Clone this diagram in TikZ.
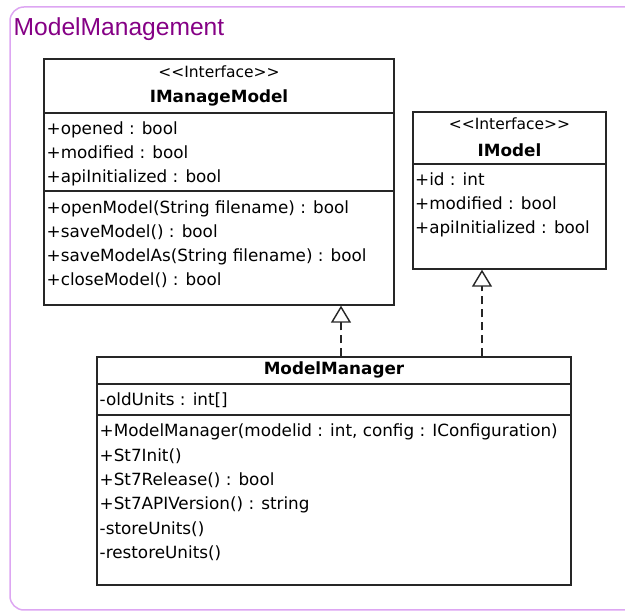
\documentclass[tikz,border=0pt]{standalone}
\usepackage{fontspec}
\setmainfont{DejaVu Sans}
\newfontfamily\titlefont{Liberation Sans}
\usepackage{xcolor}
\usetikzlibrary{arrows.meta}
\definecolor{pkgline}{HTML}{DDA6F2}
\definecolor{pkgtext}{HTML}{850085}
\newcommand{\umlsize}{\fontsize{16.8}{20}\selectfont}
\newcommand{\stereosize}{\fontsize{15.5}{18}\selectfont}
\newcommand{\boxline}{black!85}
\newcommand{\lw}{1.4pt}
\newcommand{\iface}{{<}{<}Interface{>}{>}}

\begin{document}
\begin{tikzpicture}[x=1pt, y=-1pt, >={Triangle[open, length=17pt, width=20pt]},
    classbox/.style={draw=\boxline, line width=\lw, inner sep=0pt},
    divider/.style={draw=\boxline, line width=\lw},
    member/.style={anchor=base west, inner sep=0pt, font=\umlsize},
    stereo/.style={anchor=base, inner sep=0pt, font=\stereosize},
    classname/.style={anchor=base, inner sep=0pt, font=\umlsize\bfseries},
    realize/.style={->, dash pattern=on 8pt off 5pt, line width=\lw, draw=\boxline}]
        \useasboundingbox (0,0) rectangle (625,612);
        \clip (0,0) rectangle (625,612);

        % package frame
        \draw[pkgline, line width=1.5pt, rounded corners=14pt] (660,7) -- (10,7) -- (10,610) -- (660,610);
        \node[anchor=base west, inner sep=0pt, text=pkgtext, font=\titlefont\fontsize{24.6}{28}\selectfont] (pkg) at (13.5,36) {ModelManagement};

        % box edges
        \node[classbox, minimum width=350pt, minimum height=246pt] (imm) at (219,182) {};
        \node[classbox, minimum width=193pt, minimum height=157pt] (imod) at (509.5,190.5) {};
        \node[classbox, minimum width=474pt, minimum height=228pt] (mgr) at (334,471) {};

        % compartments
        \draw[divider] (44,113) -- (394,113);
        \draw[divider] (44,191) -- (394,191);
        \draw[divider] (413,164) -- (606,164);
        \draw[divider] (97,384) -- (571,384);
        \draw[divider] (97,415) -- (571,415);

        % IManageModel
        \node[stereo] (immS) at (219,77.5) {\iface};
        \node[classname] (immN) at (219,102.5) {IManageModel};
        \node[member] (immA1) at (46.5,135) {+opened : bool};
        \node[member] (immA2) at (46.5,159) {+modified : bool};
        \node[member] (immA3) at (46.5,183) {+apiInitialized : bool};
        \node[member] (immM1) at (46.5,214) {+openModel(String filename) : bool};
        \node[member] (immM2) at (46.5,238) {+saveModel() : bool};
        \node[member] (immM3) at (46.5,262) {+saveModelAs(String filename) : bool};
        \node[member] (immM4) at (46.5,286) {+closeModel() : bool};

        % IModel
        \node[stereo] (imodS) at (509.5,129.5) {\iface};
        \node[classname] (imodN) at (509.5,157) {IModel};
        \node[member] (imodA1) at (415,186) {+id : int};
        \node[member] (imodA2) at (415,210) {+modified : bool};
        \node[member] (imodA3) at (415,234) {+apiInitialized : bool};

        % ModelManager
        \node[classname] (mgrN) at (334,375) {ModelManager};
        \node[member] (mgrA1) at (99.5,406) {-oldUnits : int[]};
        \node[member] (mgrM1) at (99.5,437) {+ModelManager(modelid : int, config : IConfiguration)};
        \node[member] (mgrM2) at (99.5,461.5) {+St7Init()};
        \node[member] (mgrM3) at (99.5,486) {+St7Release() : bool};
        \node[member] (mgrM4) at (99.5,510) {+St7APIVersion() : string};
        \node[member] (mgrM5) at (99.5,534.5) {-storeUnits()};
        \node[member] (mgrM6) at (99.5,559) {-restoreUnits()};

        % realizations
        \coordinate (realA) at (341,0);
        \coordinate (realB) at (482,0);
        \draw[realize] (mgr.north -| realA) -- (imm.south -| realA);
        \draw[realize] (mgr.north -| realB) -- (imod.south -| realB);
    \end{tikzpicture}
\end{document}
